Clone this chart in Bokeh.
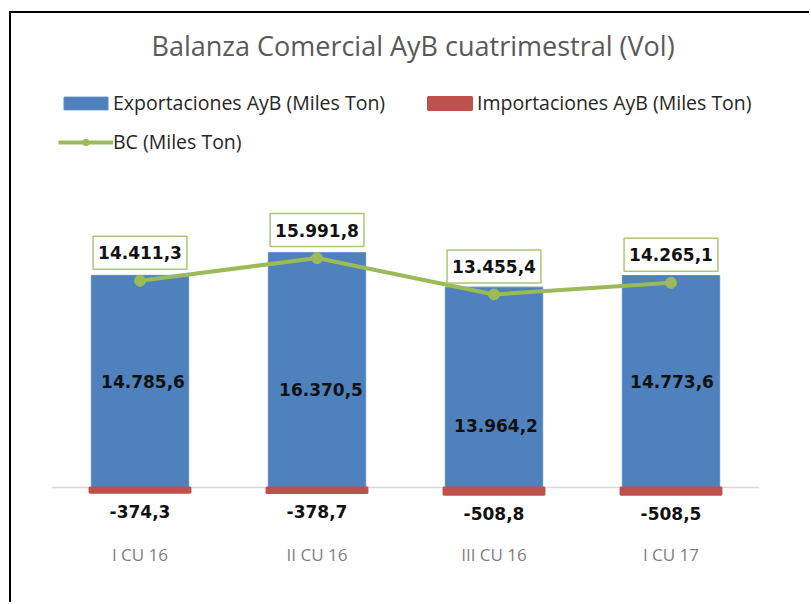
from bokeh.plotting import figure
from bokeh.models import FactorRange, Range1d, Legend, LegendItem, Span, ColumnDataSource
from bokeh.core.properties import value
from bokeh.embed import file_html
from bokeh.resources import INLINE

categories = ["I CU 16", "II CU 16", "III CU 16", "I CU 17"]
exportaciones = [14785.6, 16370.5, 13964.2, 14773.6]
importaciones = [-374.3, -378.7, -508.8, -508.5]
bc = [14411.3, 15991.8, 13455.4, 14265.1]


def fmt(v):
    s = f"{abs(v):,.1f}".replace(",", "X").replace(".", ",").replace("X", ".")
    return ("-" if v < 0 else "") + s


FONT = "Open Sans"
NUM_FONT = "DejaVu Sans"
BLUE = "#4f81bd"
RED = "#c0504d"
GREEN = "#9bbb59"

# label placement tweaks (screen pixels)
exp_label_dy = [0, 19, 38, 0]
exp_label_dx = [3, 4, 2, 1]

src = ColumnDataSource(dict(
    cat=categories,
    exp=exportaciones,
    imp=importaciones,
    bc=bc,
    exp_mid=[v / 2 for v in exportaciones],
    exp_lbl=[fmt(v) for v in exportaciones],
    imp_lbl=[fmt(v) for v in importaciones],
    bc_lbl=[fmt(v) for v in bc],
    exp_dy=exp_label_dy,
    exp_dx=exp_label_dx,
))

p = figure(width=800, height=591,
           x_range=FactorRange(factors=categories, range_padding=0),
           y_range=Range1d(-3206, 28995),
           output_backend="svg", toolbar_location=None,
           min_border_left=40, min_border_right=52,
           min_border_top=58, min_border_bottom=71)
p.margin = (11, 0, 0, 9)
p.styles = {"border-left": "2px solid black", "border-top": "2px solid black"}

p.title.text = "Balanza Comercial AyB cuatrimestral (Vol)"
p.title.align = "left"
p.title.offset = 100
p.title.text_font = FONT
p.title.text_font_size = "27px"
p.title.text_font_style = "normal"
p.title.text_color = "#595959"
p.title.standoff = 16

p.outline_line_color = None
p.xgrid.grid_line_color = None
p.ygrid.grid_line_color = None
p.yaxis.visible = False
p.xaxis.axis_line_color = None
p.xaxis.major_tick_line_color = None
p.xaxis.minor_tick_line_color = None
p.xaxis.major_label_text_font = FONT
p.xaxis.major_label_text_font_size = "17px"
p.xaxis.major_label_text_color = "#7f7f7f"
p.xaxis.major_label_standoff = 3

zero = Span(location=0, dimension="width", line_color="#d9d9d9", line_width=1.5, level="underlay")
p.add_layout(zero)

r_exp = p.vbar(x="cat", top="exp", bottom=0, width=0.55, source=src,
               fill_color=BLUE, line_color="#5b8cc8", line_width=1)
r_imp = p.vbar(x="cat", top=0, bottom="imp", width=0.57, source=src,
               fill_color=RED, line_color=RED, line_width=2)
r_line = p.line(x="cat", y="bc", source=src, line_color=GREEN, line_width=4)
r_pts = p.scatter(x="cat", y="bc", source=src, size=11, fill_color=GREEN, line_color=GREEN)

label_style = dict(text_align="center", text_baseline="middle",
                   text_font=value(NUM_FONT), text_font_style="bold",
                   text_font_size="17px", text_color="#111111")

p.text(x="cat", y="exp_mid", text="exp_lbl", source=src,
       x_offset="exp_dx", y_offset="exp_dy", **label_style)
p.text(x="cat", y="imp", text="imp_lbl", source=src, y_offset=19, **label_style)
p.text(x="cat", y="bc", text="bc_lbl", source=src, y_offset=-28,
       background_fill_color="white", border_line_color="#a9c77a",
       border_line_width=1.5, padding=(5, 10), **label_style)

legend = Legend(items=[
    LegendItem(label="Exportaciones AyB (Miles Ton)", renderers=[r_exp]),
    LegendItem(label="Importaciones AyB (Miles Ton)", renderers=[r_imp]),
    LegendItem(label="BC (Miles Ton)", renderers=[r_line, r_pts]),
], location=(7, 378), orientation="horizontal", ncols=2)
legend.padding = 0
legend.margin = 0
legend.border_line_color = None
legend.background_fill_alpha = 0
legend.glyph_width = 55
legend.glyph_height = 16
legend.label_standoff = 0
legend.label_width = 297
legend.spacing = 12
legend.label_text_font = FONT
legend.label_text_font_size = "19.5px"
legend.label_text_color = "#262626"
p.add_layout(legend)

open("out.html", "w").write(file_html(p, INLINE))
